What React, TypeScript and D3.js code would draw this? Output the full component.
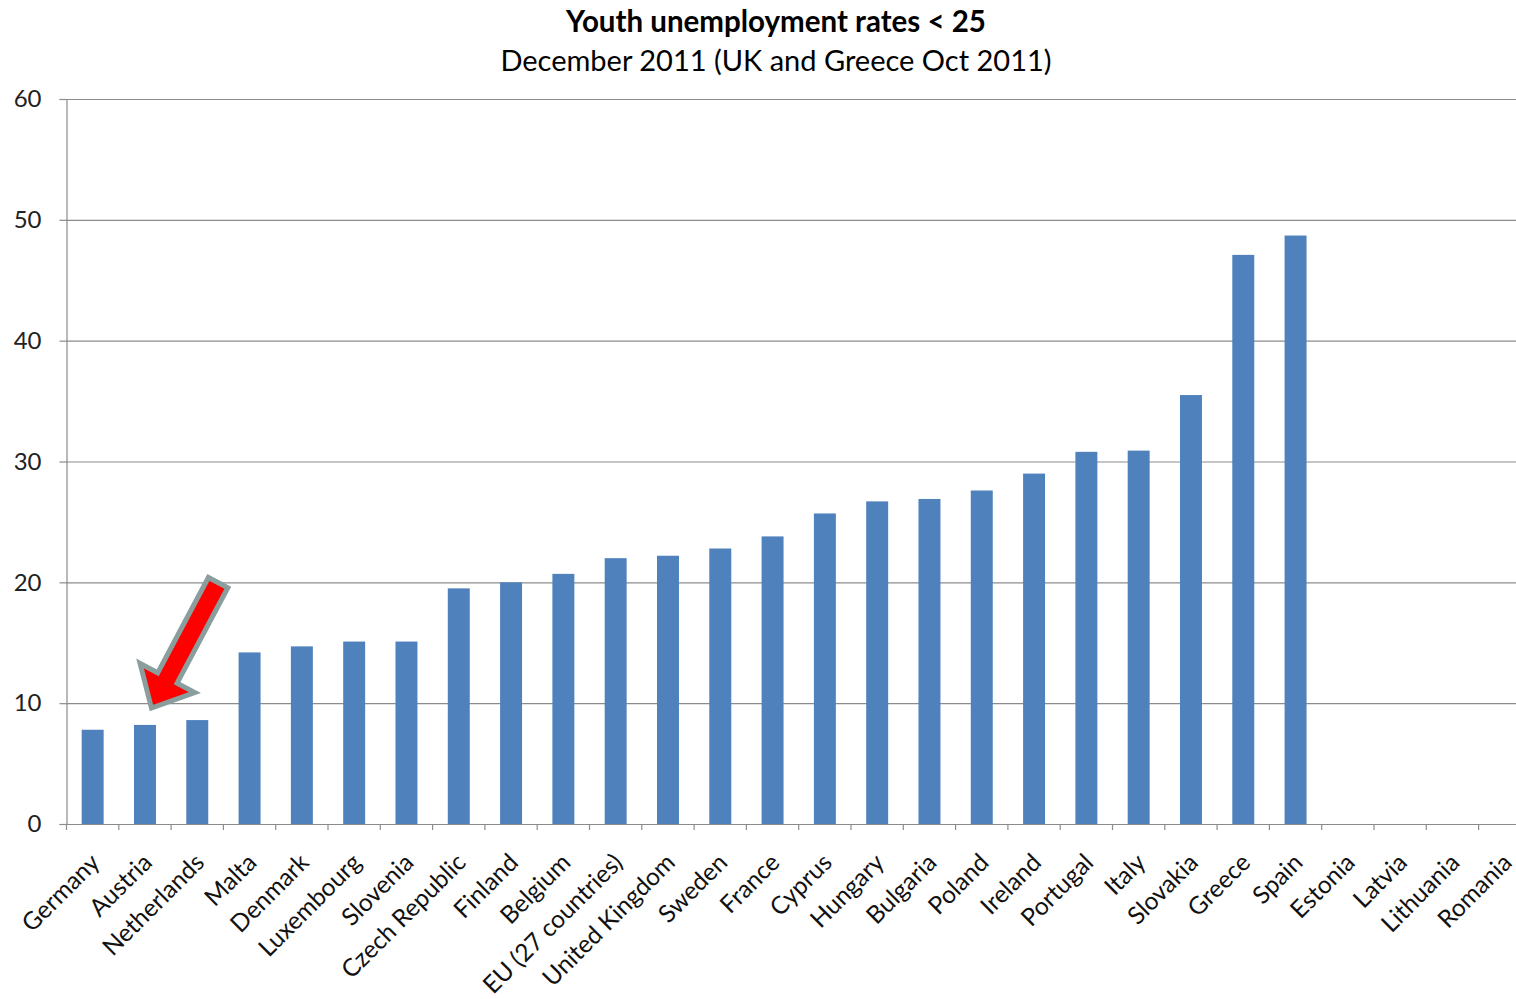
import React, { useRef, useEffect } from 'react';
import * as d3 from 'd3';

const countries = [
  'Germany', 'Austria', 'Netherlands', 'Malta', 'Denmark', 'Luxembourg', 'Slovenia',
  'Czech Republic', 'Finland', 'Belgium', 'EU (27 countries)', 'United Kingdom', 'Sweden',
  'France', 'Cyprus', 'Hungary', 'Bulgaria', 'Poland', 'Ireland', 'Portugal', 'Italy',
  'Slovakia', 'Greece', 'Spain', 'Estonia', 'Latvia', 'Lithuania', 'Romania',
];

// null = no data for the period
const rates: (number | null)[] = [
  7.8, 8.2, 8.6, 14.2, 14.7, 15.1, 15.1, 19.5, 20.0, 20.7, 22.0, 22.2, 22.8,
  23.8, 25.7, 26.7, 26.9, 27.6, 29.0, 30.8, 30.9, 35.5, 47.1, 48.7, null, null, null, null,
];

const yTicks = [0, 10, 20, 30, 40, 50, 60];

const title = 'Youth unemployment rates < 25';
const subtitle = 'December 2011 (UK and Greece Oct 2011)';

const FONT = 'Lato, "Open Sans", sans-serif';

const App = () => {
  const ref = useRef<SVGSVGElement>(null);

  useEffect(() => {
    const width = 1516;
    const left = 66;
    const top = 99;
    const bottom = 824;

    const svg = d3.select(ref.current);
    svg.selectAll('*').remove();

    const x = d3.scaleBand().domain(countries).range([left, left + 28 * 52.3]).padding(0);
    const y = d3.scaleLinear().domain([0, 60]).range([bottom, top]);

    // title
    svg.append('text')
      .attr('x', 776).attr('y', 32)
      .attr('text-anchor', 'middle')
      .attr('font-family', FONT).attr('font-weight', 'bold').attr('font-size', 29.5)
      .attr('fill', '#000')
      .text(title);
    svg.append('text')
      .attr('x', 776).attr('y', 71)
      .attr('text-anchor', 'middle')
      .attr('font-family', FONT).attr('font-size', 29)
      .attr('fill', '#000')
      .text(subtitle);

    // gridlines
    svg.append('g')
      .selectAll('line')
      .data(yTicks.filter((d) => d > 0))
      .enter()
      .append('line')
      .attr('x1', left).attr('x2', width)
      .attr('y1', (d) => y(d) + 0.5).attr('y2', (d) => y(d) + 0.5)
      .attr('stroke', '#8c8c8c').attr('stroke-width', 1.2);

    // y axis
    const yAxis = d3.axisLeft(y).tickValues(yTicks).tickSize(7).tickPadding(18);
    const gy = svg.append('g').attr('transform', `translate(${left + 0.5},0)`).call(yAxis);
    gy.selectAll('path,line').attr('stroke', '#8c8c8c').attr('stroke-width', 1.2);
    gy.selectAll('text')
      .attr('font-family', FONT).attr('font-size', 24).attr('fill', '#222');

    // bars
    const bw = x.bandwidth();
    svg.append('g')
      .selectAll('rect')
      .data(countries.map((c, i) => ({ c, v: rates[i] })).filter((d) => d.v !== null))
      .enter()
      .append('rect')
      .attr('x', (d) => (x(d.c) as number) + bw * 0.3)
      .attr('width', bw * 0.42)
      .attr('y', (d) => y(d.v as number))
      .attr('height', (d) => bottom - y(d.v as number))
      .attr('fill', '#4f81bd');

    // x axis
    const gx = svg.append('g');
    gx.append('line')
      .attr('x1', left).attr('x2', width)
      .attr('y1', bottom + 0.5).attr('y2', bottom + 0.5)
      .attr('stroke', '#8c8c8c').attr('stroke-width', 1.2);
    gx.selectAll('line.tick')
      .data(countries)
      .enter()
      .append('line')
      .attr('class', 'tick')
      .attr('x1', (d) => (x(d) as number) + 0.5).attr('x2', (d) => (x(d) as number) + 0.5)
      .attr('y1', bottom).attr('y2', bottom + 6)
      .attr('stroke', '#8c8c8c').attr('stroke-width', 1.2);
    gx.selectAll('text')
      .data(countries)
      .enter()
      .append('text')
      .attr('text-anchor', 'end')
      .attr('transform', (d) => `translate(${(x(d) as number) + bw / 2 + 3},${bottom + 34}) rotate(-45)`)
      .attr('dy', '0.35em')
      .attr('font-family', FONT).attr('font-size', 24.5).attr('fill', '#111')
      .text((d) => d);

    // red arrow pointing at the Netherlands/Austria bars
    const tipX = (x('Austria') as number) + bw / 2 + 7;
    const tipY = y(9.6);
    const L = 142, H = 34, HW = 62, SW = 22;
    const pts: [number, number][] = [
      [0, 0], [H, -HW / 2], [H, -SW / 2], [L, -SW / 2], [L, SW / 2], [H, SW / 2], [H, HW / 2],
    ];
    svg.append('polygon')
      .attr('points', pts.map((p) => p.join(',')).join(' '))
      .attr('transform', `translate(${tipX},${tipY}) rotate(-62)`)
      .attr('fill', '#ff0000')
      .attr('stroke', '#8a9e9e')
      .attr('stroke-width', 5)
      .attr('stroke-linejoin', 'miter');
  }, []);

  return (
    <svg
      ref={ref}
      width={1516}
      height={999}
      style={{ position: 'absolute', left: 0, top: 0, background: '#fff' }}
    />
  );
};

export default App;
